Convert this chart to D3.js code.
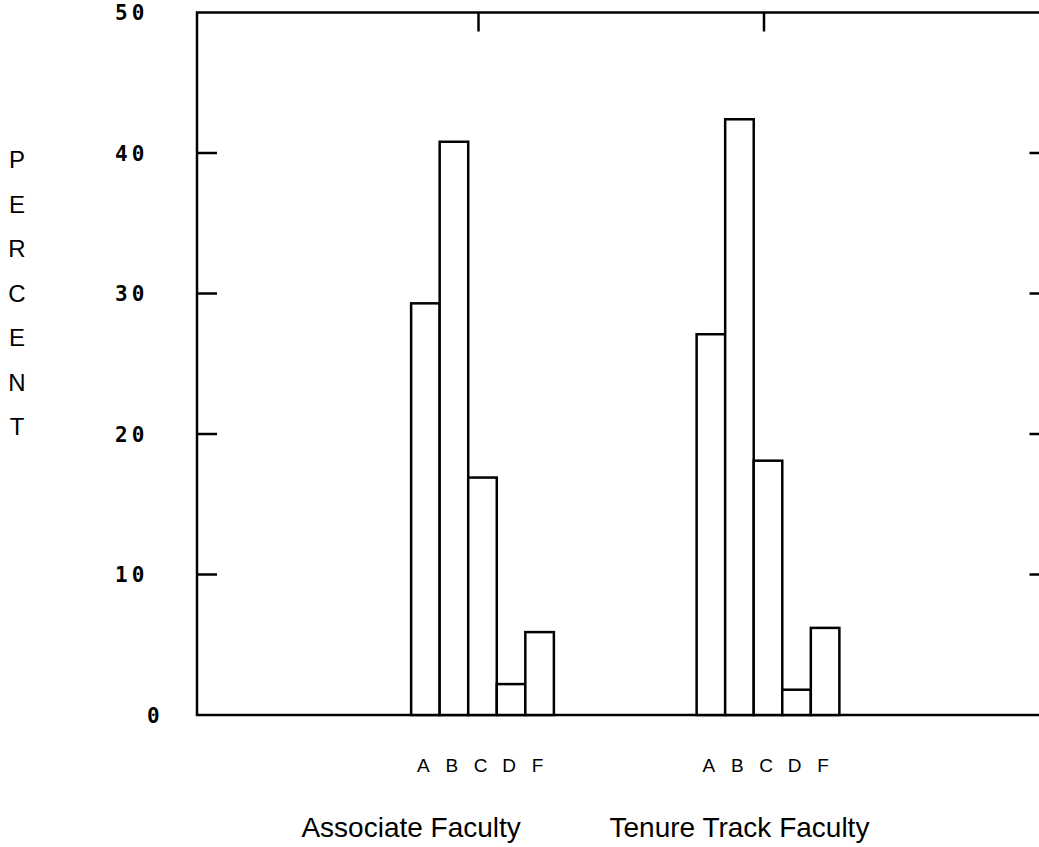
<!DOCTYPE html>
<html>
<head>
<meta charset="utf-8">
<script src="https://cdn.jsdelivr.net/npm/d3@7"></script>
<style>
  body { margin: 0; background: #fff; }
  svg { display: block; }
</style>
</head>
<body>
<div id="chart"></div>
<script>
// data
const groups = ['Associate Faculty', 'Tenure Track Faculty'];
const grades = ['A', 'B', 'C', 'D', 'F'];
const associate = [29.3, 40.8, 16.9, 2.2, 5.9];
const tenure = [27.1, 42.4, 18.1, 1.8, 6.2];
const yTicks = [0, 10, 20, 30, 40, 50];
const yLabel = 'PERCENT';

const series = [associate, tenure];

const W = 1039, H = 847;
const plotLeft = 197, plotTop = 12.5, plotBottom = 715;

const svg = d3.select('#chart').append('svg')
    .attr('width', W)
    .attr('height', H);

// x: groups sit at 1 and 2 on a 0..3 axis, each bar is 0.1 wide
const x = d3.scaleLinear().domain([0, 3]).range([plotLeft, plotLeft + 3 * 285.5]);
const y = d3.scaleLinear().domain([0, 50]).range([plotBottom, plotTop]);
const barW = 0.1;

// frame: left, top, bottom (right side runs off the page)
svg.append('path')
    .attr('d', `M${x(3)},${y(50)} L${x(0)},${y(50)} L${x(0)},${y(0)} L${x(3)},${y(0)}`)
    .attr('fill', 'none')
    .attr('stroke', '#000')
    .attr('stroke-width', 2.5);
svg.append('line')
    .attr('x1', x(3)).attr('x2', x(3))
    .attr('y1', y(50)).attr('y2', y(0))
    .attr('stroke', '#000').attr('stroke-width', 2.5);

// y ticks, drawn inward on both sides
const ticks = yTicks.filter(d => d > 0 && d < 50);
svg.selectAll('.ltick').data(ticks).enter().append('line')
    .attr('x1', x(0)).attr('x2', x(0) + 20)
    .attr('y1', d => y(d)).attr('y2', d => y(d))
    .attr('stroke', '#000').attr('stroke-width', 2.5);
svg.selectAll('.rtick').data(ticks).enter().append('line')
    .attr('x1', x(3)).attr('x2', x(3) - 24)
    .attr('y1', d => y(d)).attr('y2', d => y(d))
    .attr('stroke', '#000').attr('stroke-width', 2.5);

// tick numbers: two digits start at 115, the lone 0 sits further right
svg.selectAll('.ylab').data(yTicks).enter().append('text')
    .attr('x', d => d === 0 ? 147 : 115)
    .attr('y', d => y(d))
    .attr('dy', '0.36em')
    .attr('font-family', 'DejaVu Sans Mono')
    .attr('font-weight', 'bold')
    .attr('font-size', 21)
    .attr('letter-spacing', 4)
    .text(d => d);

// group ticks top and bottom
svg.selectAll('.gtick').data([1, 2]).enter().append('line')
    .attr('x1', d => x(d) - 4).attr('x2', d => x(d) - 4)
    .attr('y1', y(50)).attr('y2', y(50) + 19)
    .attr('stroke', '#000').attr('stroke-width', 2.5);
svg.selectAll('.btick').data([1, 2]).enter().append('line')
    .attr('x1', d => x(d)).attr('x2', d => x(d))
    .attr('y1', y(0)).attr('y2', y(0) - 16)
    .attr('stroke', '#000').attr('stroke-width', 2.5);

// bars
series.forEach((vals, gi) => {
    const start = (gi + 1) - barW * grades.length / 2;
    svg.selectAll('.bar' + gi).data(vals).enter().append('rect')
        .attr('x', (d, i) => x(start + i * barW))
        .attr('y', d => y(d))
        .attr('width', x(barW) - x(0))
        .attr('height', d => y(0) - y(d))
        .attr('fill', '#fff')
        .attr('stroke', '#000')
        .attr('stroke-width', 2.5);

    svg.selectAll('.grade' + gi).data(grades).enter().append('text')
        .attr('x', (d, i) => x(start + (i + 0.5) * barW) - 2)
        .attr('y', 772)
        .attr('text-anchor', 'middle')
        .attr('font-family', 'Liberation Sans, Arial, sans-serif')
        .attr('font-size', 19)
        .text(d => d);
});

// group names (printed a little left of the group centre)
const labelShift = [-0.25, -0.1];
svg.selectAll('.gname').data(groups).enter().append('text')
    .attr('x', (d, i) => x(i + 1 + labelShift[i]))
    .attr('y', 837)
    .attr('text-anchor', 'middle')
    .attr('font-family', 'Liberation Sans, Arial, sans-serif')
    .attr('font-size', 28)
    .text(d => d);

// vertical PERCENT
svg.selectAll('.ych').data(yLabel.split('')).enter().append('text')
    .attr('x', 17)
    .attr('y', (d, i) => 168 + i * 44.5)
    .attr('text-anchor', 'middle')
    .attr('font-family', 'Liberation Sans, Arial, sans-serif')
    .attr('font-size', 24)
    .text(d => d);
</script>
</body>
</html>
